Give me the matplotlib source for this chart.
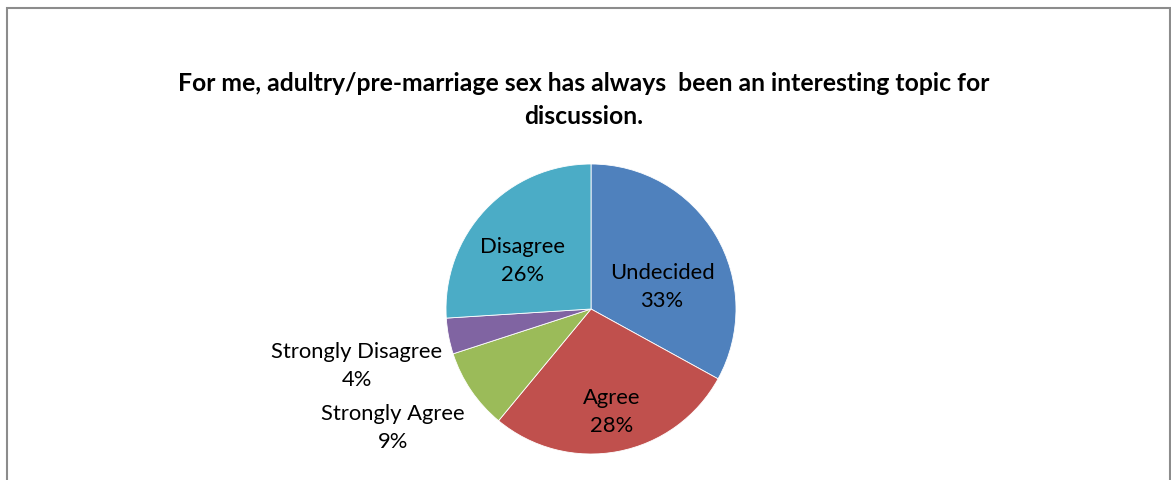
import matplotlib
matplotlib.use('Agg')
import matplotlib.pyplot as plt
from matplotlib.patches import Rectangle

categories = ['Undecided', 'Agree', 'Strongly Agree', 'Strongly Disagree', 'Disagree']
shares = [33, 28, 9, 4, 26]
colors = ['#4F81BD', '#C0504D', '#9BBB59', '#8064A2', '#4BACC6']

title = ('For me, adultry/pre-marriage sex has always  been an interesting topic for\n'
         'discussion.')

plt.rcParams['font.family'] = ['Lato', 'DejaVu Sans']

W, H = 1171, 481
fig = plt.figure(figsize=(W / 100, H / 100), dpi=100)

# chart frame
fig.patches.append(Rectangle((7 / W, -0.05), 1163 / W, (H - 9) / H + 0.05,
                             transform=fig.transFigure, fill=False,
                             edgecolor='#8c8c8c', linewidth=1.5))

cx, cy, r = 591, 310, 145
ax = fig.add_axes([(cx - r) / W, (H - cy - r) / H, 2 * r / W, 2 * r / H])
ax.pie(shares, colors=colors, startangle=90, counterclock=False, radius=1,
       wedgeprops=dict(edgecolor='white', linewidth=0.6))
ax.set_xlim(-1, 1)
ax.set_ylim(-1, 1)
ax.set_aspect('auto')
ax.axis('off')

# label positions in units of the pie radius
label_pos = [(0.49, 0.159), (0.145, -0.705), (-1.365, -0.815),
             (-1.614, -0.387), (-0.469, 0.338)]
for name, val, (x, y) in zip(categories, shares, label_pos):
    ax.text(x, y, f'{name}\n{val}%', ha='center', va='center',
            fontsize=15.8, linespacing=1.5, color='black')

fig.text(584 / W, 1 - 100 / H, title, ha='center', va='center',
         fontsize=17.8, fontweight='bold', linespacing=1.5)

fig.savefig('out.png', dpi=100)
